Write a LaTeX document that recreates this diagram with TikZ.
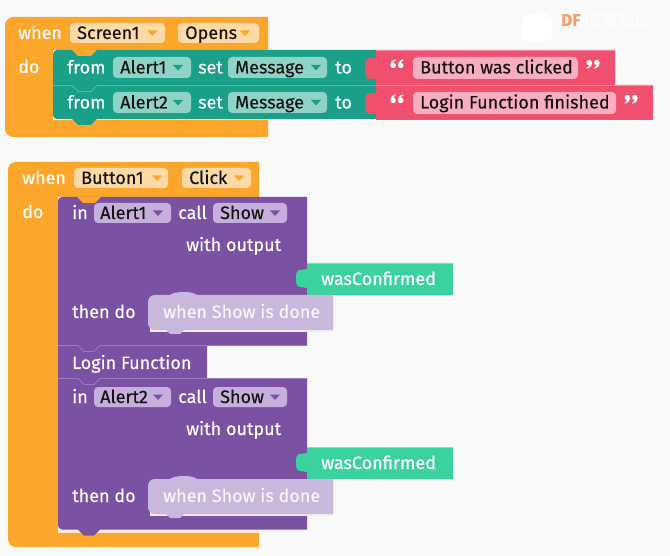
\documentclass[tikz,border=0pt]{standalone}
\usepackage{fontspec}
\setmainfont{Fira Sans}[FakeBold=0.3]
\newfontfamily\cjk{Noto Sans CJK SC}
\definecolor{bg}{HTML}{F9F9F9}
\definecolor{evt}{HTML}{FDA62C}
\definecolor{evtfld}{HTML}{FFDAA6}
\definecolor{evthi}{HTML}{FFEBCF}
\definecolor{teal}{HTML}{1A9F88}
\definecolor{tealfld}{HTML}{8FD3C6}
\definecolor{tealhi}{HTML}{52BAA6}
\definecolor{pink}{HTML}{F04F6E}
\definecolor{pinkfld}{HTML}{F8AEBF}
\definecolor{pinkhi}{HTML}{F6889E}
\definecolor{purp}{HTML}{7B51A3}
\definecolor{purpfld}{HTML}{C6AFDD}
\definecolor{purphi}{HTML}{9A7BBA}
\definecolor{mint}{HTML}{3AD39D}
\definecolor{minthi}{HTML}{7FE3C0}
\definecolor{lav}{HTML}{CAB8DC}
\definecolor{lavtext}{HTML}{F8F4FB}
\definecolor{dftext}{HTML}{F2A06A}
\newcommand\fs{\fontsize{18}{21}\selectfont}
\newcommand\ddarrow[3]{\fill[#3] (#1-5,#2-2.5) -- (#1+5,#2-2.5) -- (#1,#2+3) -- cycle;}
\newcommand\fieldbox[5]{\fill[#5, rounded corners=4pt] (#1,#2) rectangle (#3,#4);}
% opening quote mark: ball centre (#1,#2)
\newcommand\oqmark[2]{\fill[white] (#1,#2) circle (2.7pt);
  \fill[white] (#1-2.7,#2) .. controls (#1-2.7,#2-3.8) and (#1-0.6,#2-5.8) .. (#1+2.3,#2-6.3) -- (#1+2.5,#2-5) .. controls (#1+1,#2-4.4) and (#1,#2-3.6) .. (#1+0.3,#2-2.6) -- cycle;}
% closing quote mark: ball centre (#1,#2)
\newcommand\cqmark[2]{\fill[white] (#1,#2) circle (2.7pt);
  \fill[white] (#1+2.7,#2) .. controls (#1+2.7,#2+3.8) and (#1+0.6,#2+5.8) .. (#1-2.3,#2+6.3) -- (#1-2.5,#2+5) .. controls (#1-1,#2+4.4) and (#1,#2+3.6) .. (#1-0.3,#2+2.6) -- cycle;}
\begin{document}
\begin{tikzpicture}[x=1pt,y=-1pt,
  lbl/.style={anchor=base west, inner sep=0pt, text=white, font=\fs},
  fld/.style={anchor=base west, inner sep=0pt, text=black!92, font=\fs}]
\fill[bg] (0,0) rectangle (670,556);
\useasboundingbox (0,0) rectangle (670,556);

% ---------- watermark ----------
\fill[white] (522,22) .. controls (522,16) and (528,13) .. (537,13) .. controls (546,13) and (552,16) .. (552,22) -- (552,36) .. controls (552,40) and (548,42) .. (537,42) .. controls (526,42) and (522,40) .. (522,36) -- cycle;
\node[anchor=base west, inner sep=0pt, text=dftext, font=\fontsize{17}{17}\selectfont\bfseries] (dfa) at (561,26) {DF};
\node[anchor=base west, inner sep=0pt, text=white, font=\cjk\fontsize{17}{17}\selectfont] (dfb) at (584,26) {创客社区};
\node[anchor=base west, inner sep=0pt, text=white, font=\fontsize{6.5}{7}\selectfont] (dfc) at (565,39) {mc.DFRobot.com.cn};

% ---------- event 1 ----------
\fill[evt] (5,25) .. controls (5,20.6) and (9.4,17) .. (13,17) -- (268,17) -- (268,50) -- (53,50) -- (53,120) -- (268,120) -- (268,137) -- (13,137) .. controls (9.4,137) and (5,133.4) .. (5,129) -- cycle;
\fill[evthi] (53,118) rectangle (268,120.5);
% teal setters
\fill[teal] (53,85) -- (376,85) -- (376,119) -- (97,119) -- (91,125) -- (78,125) -- (72,119) -- (57,119) .. controls (54.8,119) and (53,117.2) .. (53,115) -- cycle;
\fill[teal] (53,54) .. controls (53,51.8) and (54.8,50) .. (57,50) -- (376,50) -- (376,85) -- (97,85) -- (91,91) -- (78,91) -- (72,85) -- (53,85) -- cycle;
\draw[tealhi, line width=0.8pt] (53,85.5) -- (72,85.5) -- (78,91.5) -- (91,91.5) -- (97,85.5) -- (376,85.5);
\fill[evt] (72,50) -- (97,50) -- (91,56) -- (78,56) -- cycle;
% pink text blocks
\fill[pink] (376,50) -- (615,50) -- (615,85) -- (376,85) -- (376,79) -- (372,79) .. controls (366,79) and (365,77) .. (365,68.5) .. controls (365,60) and (366,58) .. (372,58) -- (376,58) -- cycle;
\draw[pinkhi, line width=0.8pt] (376,50.4) -- (615,50.4);
\fill[pink] (376,85) -- (653,85) -- (653,120) -- (376,120) -- (376,114) -- (372,114) .. controls (366,114) and (365,112) .. (365,103.5) .. controls (365,95) and (366,93) .. (372,93) -- (376,93) -- cycle;
\draw[pinkhi, line width=0.8pt] (376,85.4) -- (653,85.4);

% header 1
\node[lbl] (when1) at (18,39) {when};
\fieldbox{70}{23}{165}{43}{evtfld}
\node[fld] (scr) at (77,39) {Screen1};
\ddarrow{152.5}{33}{evt}
\fieldbox{178}{23}{259}{43}{evtfld}
\node[fld] (opens) at (185,39) {Opens};
\ddarrow{245}{33}{evt}
\node[lbl] (do1) at (18,73) {do};
% row 1
\node[lbl] (from1) at (67,73.5) {from};
\fieldbox{113}{57}{191}{78}{tealfld}
\node[fld] (al1) at (120,73.5) {Alert1};
\ddarrow{178}{67.5}{teal}
\node[lbl] (set1) at (198,73.5) {set};
\fieldbox{228}{57}{327}{78}{tealfld}
\node[fld] (msg1) at (235,73.5) {Message};
\ddarrow{316}{67.5}{teal}
\node[lbl] (to1) at (335,73.5) {to};
\oqmark{393.2}{65.5}\oqmark{400.8}{65.5}
\fieldbox{413}{57}{578}{79}{pinkfld}
\node[fld] (t1) at (420,73.5) {Button was clicked};
\cqmark{589.2}{62.5}\cqmark{596.8}{62.5}
% row 2
\node[lbl] (from2) at (67,108.5) {from};
\fieldbox{113}{92}{191}{113}{tealfld}
\node[fld] (al2) at (120,108.5) {Alert2};
\ddarrow{178}{102.5}{teal}
\node[lbl] (set2) at (198,108.5) {set};
\fieldbox{228}{92}{327}{113}{tealfld}
\node[fld] (msg2) at (235,108.5) {Message};
\ddarrow{316}{102.5}{teal}
\node[lbl] (to2) at (335,108.5) {to};
\oqmark{393.2}{100.5}\oqmark{400.8}{100.5}
\fieldbox{413}{92}{616}{114}{pinkfld}
\node[fld] (t2) at (420,108.5) {Login Function finished};
\cqmark{627.2}{97.5}\cqmark{634.8}{97.5}

% ---------- event 2 ----------
\fill[evt] (8,170) .. controls (8,165.6) and (11.6,162) .. (16,162) -- (259,162) -- (259,197) -- (58,197) -- (58,532) -- (259,532) -- (259,547) -- (16,547) .. controls (11.6,547) and (8,543.4) .. (8,539) -- cycle;
\fill[evthi] (58,529) rectangle (259,532.5);
% purple call block 2
\fill[purp] (58,378) -- (307,378) -- (307,529.5) -- (100,529.5) -- (94,535.5) -- (84,535.5) -- (78,529.5) -- (62,529.5) .. controls (59.8,529.5) and (58,527.7) .. (58,525.5) -- cycle;
% login function
\fill[purp] (58,345) -- (207,345) -- (207,378) -- (100,378) -- (94,384) -- (84,384) -- (78,378) -- (58,378) -- cycle;
% purple call block 1
\fill[purp] (58,201) .. controls (58,198.8) and (59.8,197) .. (62,197) -- (307,197) -- (307,345) -- (100,345) -- (94,351) -- (84,351) -- (78,345) -- (58,345) -- cycle;
\draw[purphi, line width=0.8pt] (58,345.5) -- (78,345.5) -- (84,351.5) -- (94,351.5) -- (100,345.5) -- (307,345.5);
\draw[purphi, line width=0.8pt] (58,378.5) -- (78,378.5) -- (84,384.5) -- (94,384.5) -- (100,378.5) -- (307,378.5);
\fill[evt] (77,197) -- (101,197) -- (95,203) -- (83,203) -- cycle;

% green outputs and lavender blocks
\foreach \dy in {0,184} {
  \fill[mint] (307,263+\dy) -- (453,263+\dy) -- (453,295+\dy) -- (307,295+\dy) -- (307,288+\dy) .. controls (303,288+\dy) and (303,287+\dy) .. (300,287+\dy) .. controls (297,287+\dy) and (296,284+\dy) .. (296,278.5+\dy) .. controls (296,273+\dy) and (297,270+\dy) .. (300,270+\dy) .. controls (303,270+\dy) and (303,269+\dy) .. (307,269+\dy) -- cycle;
  \draw[minthi, line width=0.8pt] (307,263.4+\dy) -- (453,263.4+\dy);
  \fill[white!70!lav] (150,327+\dy) rectangle (333,332+\dy);
  \fill[lav] (148,302+\dy) .. controls (148,298+\dy) and (151,295+\dy) .. (155,295+\dy) -- (170,295+\dy) .. controls (174,291+\dy) and (193,291+\dy) .. (197,295+\dy) -- (333,295+\dy) -- (333,330+\dy) -- (184,330+\dy) -- (180,334+\dy) -- (170,334+\dy) -- (166,330+\dy) -- (155,330+\dy) .. controls (151,330+\dy) and (148,327+\dy) .. (148,323+\dy) -- cycle;
}

% header 2
\node[lbl] (when2) at (22,184) {when};
\fieldbox{74}{168}{168}{188}{evtfld}
\node[fld] (btn) at (81,184) {Button1};
\ddarrow{157}{178}{evt}
\fieldbox{182}{168}{251}{188}{evtfld}
\node[fld] (click) at (189,184) {Click};
\ddarrow{239}{178}{evt}
\node[lbl] (do2) at (22,218) {do};

% call 1
\node[lbl] (in1) at (72,219) {in};
\fieldbox{94}{203}{171}{223}{purpfld}
\node[fld] (ca1) at (100,219) {Alert1};
\ddarrow{158}{213}{purp}
\node[lbl] (call1) at (178,219) {call};
\fieldbox{213}{203}{287}{223}{purpfld}
\node[fld] (sh1) at (220,219) {Show};
\ddarrow{275}{213}{purp}
\node[lbl] (wo1) at (186,251) {with output};
\node[lbl] (wc1) at (321,285) {wasConfirmed};
\node[lbl] (td1) at (72,318) {then do};
\node[lbl, text=lavtext] (wd1) at (163,318) {when Show is done};

% login function
\node[lbl] (login) at (72,369) {Login Function};

% call 2
\node[lbl] (in2) at (72,403) {in};
\fieldbox{94}{387}{171}{407}{purpfld}
\node[fld] (ca2) at (100,403) {Alert2};
\ddarrow{158}{397}{purp}
\node[lbl] (call2) at (178,403) {call};
\fieldbox{213}{387}{287}{407}{purpfld}
\node[fld] (sh2) at (220,403) {Show};
\ddarrow{275}{397}{purp}
\node[lbl] (wo2) at (186,435) {with output};
\node[lbl] (wc2) at (321,469) {wasConfirmed};
\node[lbl] (td2) at (72,502) {then do};
\node[lbl, text=lavtext] (wd2) at (163,502) {when Show is done};
\end{tikzpicture}
\end{document}
